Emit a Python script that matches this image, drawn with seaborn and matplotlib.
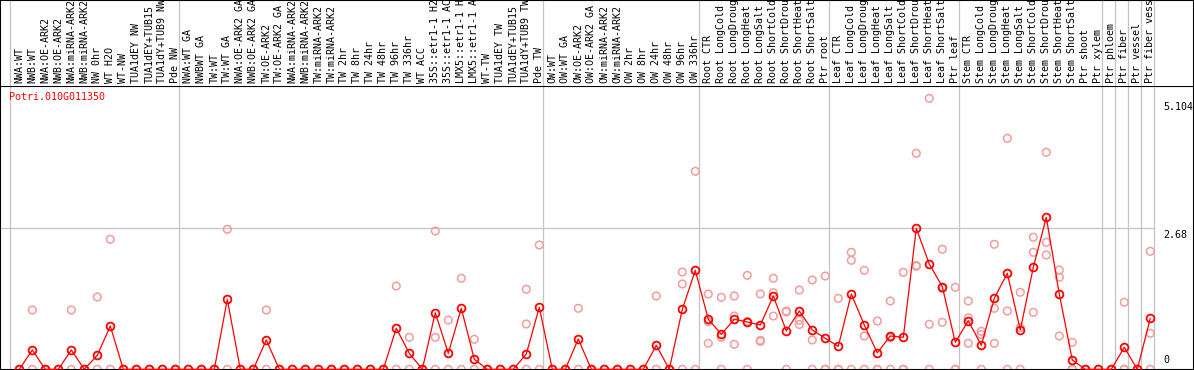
import matplotlib
matplotlib.use("Agg")
import matplotlib.pyplot as plt
import seaborn as sns
import pandas as pd
import numpy as np

# ---------------- data ----------------
labels = [
    "NWA:WT", "NWB:WT", "NWA:OE-ARK2", "NWB:OE-ARK2", "NWA:miRNA-ARK2", "NWB:miRNA-ARK2",
    "NW 0hr", "WT H2O", "WT-NW", "TUA1dEY NW", "TUA1dEY+TUB15", "TUA1dY+TUB9 NW", "Pde NW",
    "NWA:WT GA", "NWBWT GA", "TW:WT", "TW:WT GA", "NWA:OE-ARK2 GA", "NWB:OE-ARK2 GA",
    "TW:OE-ARK2", "TW:OE-ARK2 GA", "NWA:miRNA-ARK2", "NWB:miRNA-ARK2", "TW:miRNA-ARK2",
    "TW:miRNA-ARK2", "TW 2hr", "TW 8hr", "TW 24hr", "TW 48hr", "TW 96hr", "TW 336hr",
    "WT ACC", "35S::etr1-1 H2", "35S::etr1-1 AC", "LMX5::etr1-1 H", "LMX5::etr1-1 A",
    "WT-TW", "TUA1dEY TW", "TUA1dEY+TUB15", "TUA1dY+TUB9 TW", "Pde TW",
    "OW:WT", "OW:WT GA", "OW:OE-ARK2", "OW:OE-ARK2 GA", "OW:miRNA-ARK2", "OW:miRNA-ARK2",
    "OW 2hr", "OW 8hr", "OW 24hr", "OW 48hr", "OW 96hr", "OW 336hr",
    "Root CTR", "Root LongCold", "Root LongDroug", "Root LongHeat", "Root LongSalt",
    "Root ShortCold", "Root ShortDrou", "Root ShortHeat", "Root ShortSalt", "Ptr root",
    "Leaf CTR", "Leaf LongCold", "Leaf LongDroug", "Leaf LongHeat", "Leaf LongSalt",
    "Leaf ShortCold", "Leaf ShortDrou", "Leaf ShortHeat", "Leaf ShortSalt", "Ptr leaf",
    "Stem CTR", "Stem LongCold", "Stem LongDroug", "Stem LongHeat", "Stem LongSalt",
    "Stem ShortCold", "Stem ShortDrou", "Stem ShortHeat", "Stem ShortSalt", "Ptr shoot",
    "Ptr xylem", "Ptr phloem", "Ptr fiber", "Ptr vessel", "Ptr fiber vess",
]
group_sizes = [13, 28, 12, 10, 10, 11, 1, 1, 1, 1]

means = [
    0, 0.366, 0, 0, 0.366, 0, 0.266, 0.822, 0, 0, 0, 0, 0,
    0, 0, 0, 1.328, 0, 0, 0.556, 0, 0, 0, 0, 0, 0, 0, 0, 0, 0.778, 0.304,
    0, 1.074, 0.304, 1.157, 0.19, 0, 0, 0, 0.29, 1.176,
    0, 0, 0.575, 0, 0, 0, 0, 0, 0.455, 0, 1.138, 1.878,
    0.949, 0.664, 0.949, 0.898, 0.84, 1.391, 0.727, 1.106, 0.746, 0.588,
    0.436, 1.429, 0.84, 0.312, 0.632, 0.607, 2.675, 1.998, 1.568, 0.512,
    0.922, 0.455, 1.347, 1.822, 0.746, 1.935, 2.884, 1.429, 0.176, 0, 0,
    0, 0.417, 0, 0.968,
]

replicates = [
    [0], [1.125, 0], [0], [0], [1.125, 0], [0], [1.372, 0], [2.467, 0], [0], [0], [0], [0], [0],
    [0], [0], [0], [2.657, 0], [0], [0], [1.125, 0], [0], [0], [0], [0], [0], [0], [0], [0], [0],
    [1.58, 0], [0.607, 0],
    [0], [2.624, 0.607, 0], [0.935, 0], [1.727, 0], [0.569, 0], [0], [0], [0], [1.518, 0.86, 0],
    [2.359, 0],
    [0], [0], [1.157, 0], [0], [0], [0], [0], [0], [1.391, 0], [0], [1.846, 1.619, 0], [3.757, 0],
    [1.429, 0.904, 0.493], [1.366, 0.607, 0], [1.391, 1.011, 0.474], [1.783, 0.91, 0],
    [1.429, 0.55, 0.53], [1.727, 1.454, 1.011], [1.106, 1.09, 0], [1.505, 0.93, 0.85],
    [1.695, 0.556, 0], [1.77, 0, 0],
    [1.347, 0, 0], [2.22, 2.068, 0], [1.878, 0.632, 0], [0.917, 0, 0], [1.296, 0.6, 0],
    [1.84, 0, 0], [4.099, 1.97, 1.955], [5.142, 0.854, 0], [2.277, 0.892, 1.535], [1.556, 0, 0],
    [1.296, 0.977, 0.493], [0.72, 0.66, 0], [2.372, 1.157, 0.493], [4.383, 1.106, 0],
    [1.461, 0.79, 0], [2.505, 2.22, 1.081], [4.118, 2.41, 2.169], [1.884, 1.746, 0.632],
    [0.512, 0, 0], [0], [0],
    [0], [1.271, 0, 0], [0], [2.239, 0.683, 0],
]

gene_name = "Potri.010G011350"
ref_line_value = 2.68
y_label_values = [5.104, 2.68, 0]
y_label_texts = ["5.104", "2.68", "0"]

# ---------------- layout helpers (pixel geometry) ----------------
W, H = 1194, 370
HEADER = 85.5          # header height in px
X0, DX = 19.3, 13.0    # centre of first category, spacing in px
Y0, DY = 369.3, 52.7   # pixel row of value 0, px per unit


def px_x(p):
    return (p - X0) / DX


sns.set_style("white")
plt.rcParams["font.family"] = ["DejaVu Sans Mono", "DejaVu Sans"]
FS = 7.2

fig = plt.figure(figsize=(W / 100, H / 100), dpi=100)
ax = fig.add_axes([0, 0, 1, (H - HEADER) / H])
hx = fig.add_axes([0, (H - HEADER) / H, 1, HEADER / H])

xlim = (px_x(0), px_x(W))
ax.set_xlim(*xlim)
hx.set_xlim(*xlim)
ax.set_ylim(-(H - Y0) / DY, (Y0 - HEADER) / DY)
hx.set_ylim(0, 1)

# ---------------- data frames ----------------
idx = np.arange(len(means))
df_mean = pd.DataFrame({"idx": idx, "value": means})
rep_idx, rep_val = [], []
for i, reps in enumerate(replicates):
    for v in reps:
        rep_idx.append(i)
        rep_val.append(v)
df_rep = pd.DataFrame({"idx": rep_idx, "value": rep_val})

# ---------------- grid / separators ----------------
grey = "#C4C4C4"
bounds = np.concatenate([[0], np.cumsum(group_sizes)])
for b in bounds:
    xb = b - (X0 - 10) / DX
    ax.axvline(xb, color=grey, lw=0.9, zorder=0)
    hx.axvline(xb, color=grey, lw=0.9, zorder=0)
ax.hlines(ref_line_value, px_x(0), px_x(1155), color=grey, lw=0.9, zorder=0)

# ---------------- marks ----------------
sns.scatterplot(data=df_rep, x="idx", y="value", ax=ax, marker="o", s=30,
                facecolor="none", edgecolor="#F29C9C", linewidth=1.1,
                legend=False, zorder=2)
coll = ax.collections[-1]
coll.set_facecolor("none")
coll.set_edgecolor("#F29C9C")

sns.lineplot(data=df_mean, x="idx", y="value", ax=ax, color="#FF0000", lw=0.9,
             marker="o", markersize=5.6, markerfacecolor="none",
             markeredgecolor="#FF0000", markeredgewidth=1.3,
             errorbar=None, legend=False, zorder=3)

# ---------------- texts ----------------
for i, lab in enumerate(labels):
    hx.text(i, (HEADER - 83.3) / HEADER, lab, rotation=90, ha="center", va="bottom",
            fontsize=FS, color="black")

ax.text(px_x(9.0), (Y0 - 97.2) / DY, gene_name, ha="left", va="center",
        fontsize=FS, color="#FF0000")

for v, t in zip(y_label_values, y_label_texts):
    if v == 0:
        ax.annotate(t, xy=(px_x(1163), v), xytext=(0, 3.0), textcoords="offset points",
                    ha="left", va="bottom", fontsize=FS, color="black")
    else:
        ax.annotate(t, xy=(px_x(1163), v), xytext=(0, -1.2), textcoords="offset points",
                    ha="left", va="top", fontsize=FS, color="black")

# ---------------- frame ----------------
for a in (ax, hx):
    a.set_xticks([])
    a.set_yticks([])
    a.set_xlabel("")
    a.set_ylabel("")
    for s in a.spines.values():
        s.set_visible(True)
        s.set_color("black")
        s.set_linewidth(1.5)
ax.spines["top"].set_linewidth(0.8)
hx.spines["bottom"].set_visible(False)

fig.savefig("out.png", dpi=100)
